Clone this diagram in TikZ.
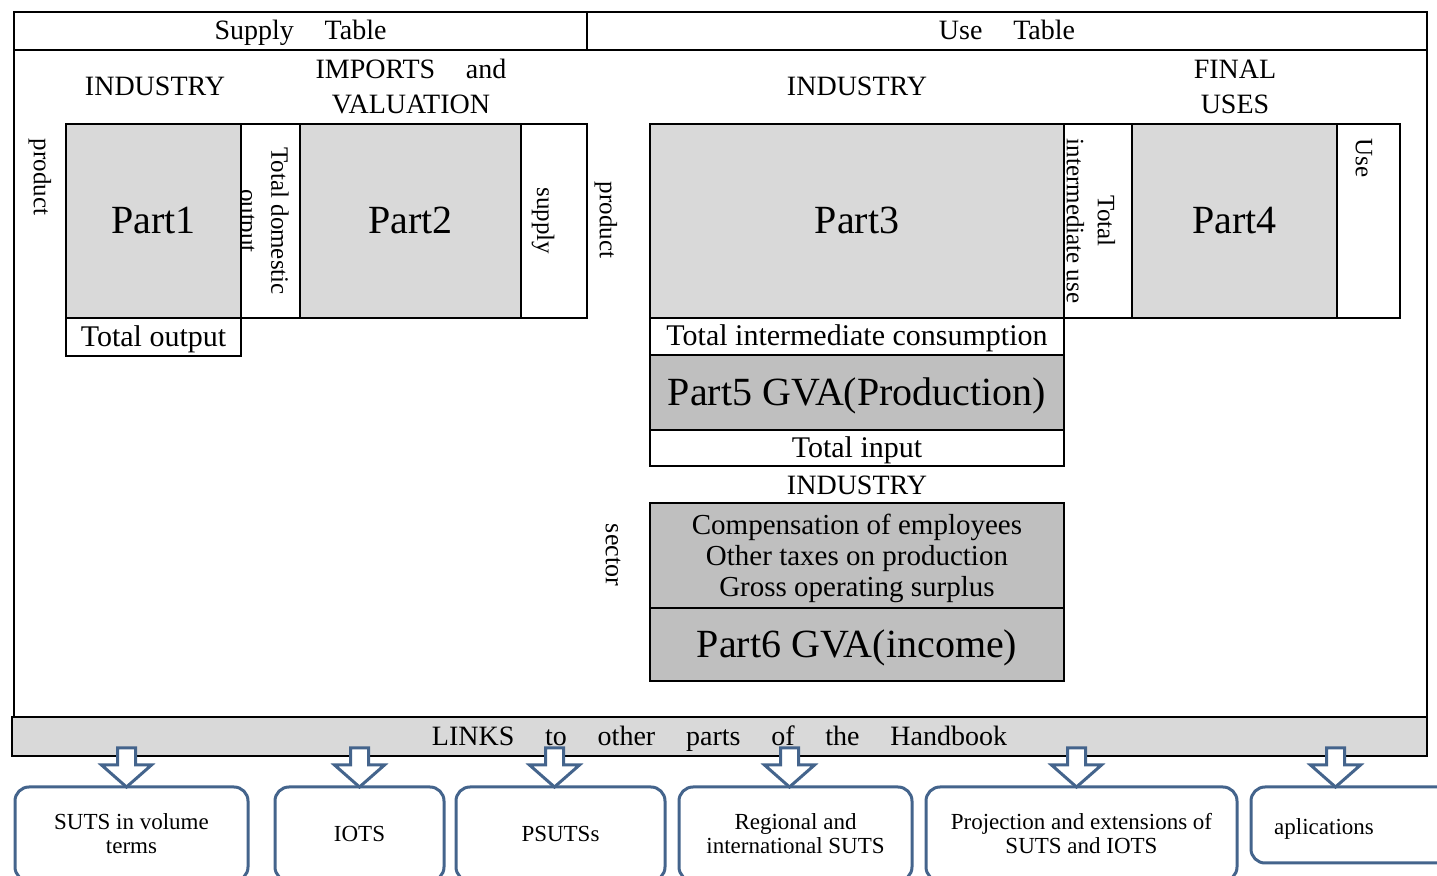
\documentclass[tikz,border=0pt]{standalone}
\usepackage{fontspec}
\setmainfont{Liberation Serif}
\usetikzlibrary{calc}

\definecolor{celllight}{HTML}{D9D9D9}
\definecolor{celldark}{HTML}{BFBFBF}
\definecolor{linkblue}{RGB}{68,100,140}

% a cell given by its corners (x1,y1)-(x2,y2) in picture units
\newcommand\cellbox[7]{%
  \node[#6, minimum width={(#4-#2)*0.5pt}, minimum height={(#5-#3)*0.5pt}]
    (#1) at ({(#2+#4)/2},{(#3+#5)/2}) {#7};}

% hollow block arrow from the links band down to a target box
\newcommand\linkarrow[2]{%
  \draw[blockarrow] let \p1=($(#1.north)+(#2,0)$), \p2=(links.south) in
    (\x1-4.5pt,\y2+4pt) -- (\x1+4.5pt,\y2+4pt) -- (\x1+4.5pt,\y1+11pt)
    -- (\x1+12.5pt,\y1+11pt) -- (\x1,\y1) -- (\x1-12.5pt,\y1+11pt)
    -- (\x1-4.5pt,\y1+11pt) -- cycle;}

\begin{document}
\begin{tikzpicture}[x=0.5pt,y=-0.5pt,
  cell/.style={draw, line width=1pt, inner sep=0pt, outer sep=0pt, align=center},
  lightcell/.style={cell, fill=celllight},
  darkcell/.style={cell, fill=celldark},
  parttext/.style={font=\fontsize{20}{22}\selectfont, text height=12.6pt, text depth=0pt},
  bodytext/.style={font=\fontsize{15}{16}\selectfont, text height=9.4pt, text depth=0pt},
  headtext/.style={inner sep=0pt, align=center, font=\fontsize{14}{17.5}\selectfont},
  headcell/.style={font=\fontsize{14}{17.5}\selectfont, text height=8.8pt, text depth=0pt},
  sidetext/.style={inner sep=0pt, align=center, rotate=-90, font=\fontsize{12.5}{15.5}\selectfont},
  linkbox/.style={draw=linkblue, line width=1.5pt, rounded corners=7pt, fill=white,
    inner sep=0pt, outer sep=0pt, align=center, font=\fontsize{11.5}{12}\selectfont},
  blockarrow/.style={draw=linkblue, line width=1.5pt, fill=white, line join=miter},
]
\useasboundingbox (0,0) rectangle (1437,876);
\clip (0,0) rectangle (1437,876);

% outer frame and header row
\cellbox{frame}{14}{50}{1427}{717}{cell}{}
\cellbox{supplyhdr}{14}{12}{587}{50}{cell,headcell}{Supply\hspace{1.1em}Table}
\cellbox{usehdr}{587}{12}{1427}{50}{cell,headcell}{Use\hspace{1.1em}Table}

% ---- supply table ----
\node[headtext] (indS) at (155,86) {INDUSTRY};
\node[headtext] (impval) at (411,87) {IMPORTS\hspace{1.1em}and\\VALUATION};
\node[sidetext] (prodS) at (40,177) {product};

\cellbox{part1}{66}{124}{241}{318}{lightcell,parttext}{Part1}
\cellbox{tdo}{241}{124}{300}{318}{cell}{}
\begin{scope}
  \clip (241,124) rectangle (300,318);
  \node[sidetext] (tdotext) at (262,221) {Total domestic\\output};
\end{scope}
\cellbox{part2}{300}{124}{521}{318}{lightcell,parttext}{Part2}
\cellbox{supcol}{521}{124}{587}{318}{cell}{}
\node[sidetext] (suptext) at (543,221) {supply};
\cellbox{totout}{66}{318}{241}{356}{cell,bodytext}{Total output}

% ---- use table ----
\node[headtext] (indU) at (857,86) {INDUSTRY};
\node[headtext] (final) at (1235,87) {FINAL\\USES};
\node[sidetext] (prodU) at (606,220) {product};

\cellbox{part3}{650}{124}{1064}{318}{lightcell,parttext}{Part3}
\cellbox{tiu}{1064}{124}{1132}{318}{cell}{}
\node[sidetext] (tiutext) at (1091,221) {Total\\intermediate use};
\cellbox{part4}{1132}{124}{1337}{318}{lightcell,parttext}{Part4}
\cellbox{usecol}{1337}{124}{1400}{318}{cell}{}
\node[sidetext] (usetext) at (1364,158) {Use};

\cellbox{tic}{650}{318}{1064}{355}{cell,bodytext}{Total intermediate consumption}
\cellbox{part5}{650}{355}{1064}{430}{darkcell,parttext}{Part5 GVA(Production)}
\cellbox{totin}{650}{430}{1064}{466}{cell,bodytext}{Total input}

\node[headtext] (indI) at (857,485) {INDUSTRY};
\node[sidetext, font=\fontsize{13}{15}\selectfont] (sector) at (613,555) {sector};
\cellbox{comp}{650}{503}{1064}{608}{darkcell}{}
\node[inner sep=0pt, align=center, font=\fontsize{14.5}{15.5}\selectfont] (comptext) at (857,558)
  {Compensation of employees\\Other taxes on production\\Gross operating surplus};
\cellbox{part6}{650}{608}{1064}{681}{darkcell,parttext}{Part6 GVA(income)}

% ---- links to other parts ----
\cellbox{links}{12}{717}{1427}{756}{lightcell,headcell}
  {LINKS\hspace{1.1em}to\hspace{1.1em}other\hspace{1.1em}parts\hspace{1.1em}of\hspace{1.1em}the\hspace{1.1em}Handbook}

\cellbox{b1}{15}{787}{248}{881}{linkbox}{SUTS in volume\\terms}
\cellbox{b2}{275}{787}{444}{881}{linkbox}{IOTS}
\cellbox{b3}{456}{787}{665}{881}{linkbox}{PSUTSs}
\cellbox{b4}{679}{787}{912}{881}{linkbox}{Regional and\\international SUTS}
\cellbox{b5}{926}{787}{1237}{881}{linkbox}{Projection and extensions of\\SUTS and IOTS}
\cellbox{b6}{1251}{787}{1460}{863}{linkbox}{}
\node[inner sep=0pt, font=\fontsize{11.5}{12}\selectfont] (b6text) at (1324,829) {aplications};

\linkarrow{b1}{-5}
\linkarrow{b2}{0}
\linkarrow{b3}{-6}
\linkarrow{b4}{-6}
\linkarrow{b5}{-5}
\linkarrow{b6}{-20}
\end{tikzpicture}
\end{document}
